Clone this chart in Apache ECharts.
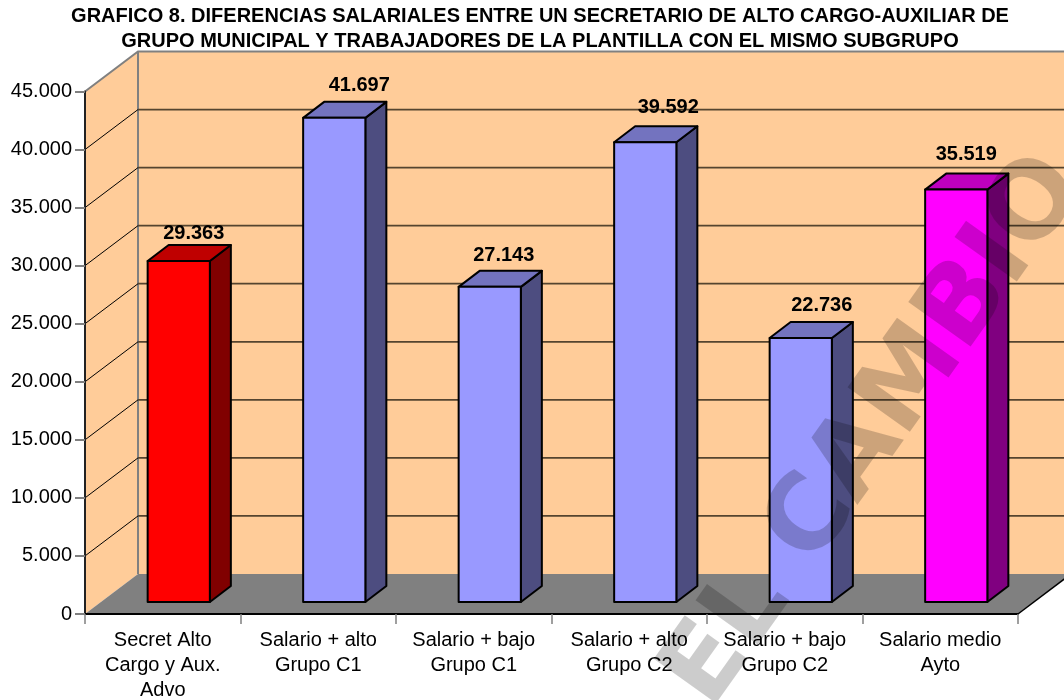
<!DOCTYPE html>
<html>
<head>
<meta charset="utf-8">
<style>html,body{margin:0;padding:0;background:#fff}#c{width:1064px;height:700px}</style>
<script src="https://cdn.jsdelivr.net/npm/echarts@6/dist/echarts.min.js"></script>
</head>
<body>
<div id="c"></div>
<script>
const titleText = 'GRAFICO 8. DIFERENCIAS SALARIALES ENTRE UN SECRETARIO DE ALTO CARGO-AUXILIAR DE\nGRUPO MUNICIPAL Y TRABAJADORES DE LA PLANTILLA CON EL MISMO SUBGRUPO';
const categories = ['Secret Alto\nCargo y Aux.\nAdvo','Salario + alto\nGrupo C1','Salario + bajo\nGrupo C1','Salario + alto\nGrupo C2','Salario + bajo\nGrupo C2','Salario medio\nAyto'];
const salaries = [29363,41697,27143,39592,22736,35519];
const yTicks = [5000,10000,15000,20000,25000,30000,35000,40000];
const faceColors = ['#FF0000','#9999FF','#9999FF','#9999FF','#9999FF','#FF00FF'];
const topColors = ['#BF0000','#7373BF','#7373BF','#7373BF','#7373BF','#BF00BF'];
const sideColors = ['#800000','#4D4D80','#4D4D80','#4D4D80','#4D4D80','#800080'];
const watermark = 'EL CAMBIO';

// 3D layout (pixels)
const WALL_DX = 53, WALL_DY = -40, BAR_DX = 16, BAR_DY = -12, DEPTH_DX = 21, DEPTH_DY = -16;
const labelNudgeX = [15,25,14,23,21,10];
const labelNudgeY = [-28,-32,-31,-35,-33,-35];
const FONT = '"Liberation Sans", Arial, sans-serif';
const fmt = v => String(v).replace(/\B(?=(\d{3})+$)/g,'.');

const wallSeries = {
  type:'custom', silent:true, z:1, clip:false, data:[0], encode:{x:[],y:[]},
  renderItem(params){
    const g = params.coordSys, L=g.x, R=g.x+g.width, T=g.y, B=g.y+g.height;
    const stroke = {stroke:'#808080',lineWidth:2,fill:null};
    return {type:'group',children:[
      {type:'rect',shape:{x:L+WALL_DX,y:T+WALL_DY,width:g.width+WALL_DX,height:g.height},style:{fill:'#FFCC99'}},
      {type:'polygon',shape:{points:[[L,T],[L+WALL_DX,T+WALL_DY],[L+WALL_DX,B+WALL_DY],[L,B]]},style:{fill:'#FFCC99'}},
      {type:'polygon',shape:{points:[[L,B],[L+WALL_DX,B+WALL_DY],[R+WALL_DX,B+WALL_DY],[R,B]]},style:{fill:'#808080'}},
      {type:'polyline',shape:{points:[[L,T],[L+WALL_DX,T+WALL_DY],[R+WALL_DX,T+WALL_DY]]},style:stroke},
      {type:'line',shape:{x1:L+WALL_DX,y1:T+WALL_DY,x2:L+WALL_DX,y2:B+WALL_DY},style:stroke},
      {type:'line',shape:{x1:R,y1:B,x2:R+WALL_DX,y2:B+WALL_DY},style:{stroke:'#000',lineWidth:1.5}}
    ]};
  }
};
const gridSeries = {
  type:'custom', silent:true, z:2, clip:false, data:yTicks.map(v=>[0,v]),
  encode:{y:1},
  renderItem(params,api){
    const g = params.coordSys, y = api.coord([0,api.value(1)])[1], L=g.x, R=g.x+g.width;
    return {type:'group',children:[
      {type:'line',shape:{x1:L,y1:y,x2:L+WALL_DX,y2:y+WALL_DY},style:{stroke:'#000',lineWidth:1}},
      {type:'line',shape:{x1:L+WALL_DX,y1:y+WALL_DY,x2:R+WALL_DX,y2:y+WALL_DY},style:{stroke:'#55442f',lineWidth:1.8}}
    ]};
  }
};
const barSeries = {
  type:'custom', z:3, clip:false, data:salaries.map((v,i)=>[i,v]),
  encode:{x:0,y:1},
  renderItem(params,api){
    const i = params.dataIndex, v = api.value(1);
    const top = api.coord([i,v]), base = api.coord([i,0]), w = api.size([1,0])[0]*0.4;
    const x0 = top[0]-w/2+BAR_DX, x1 = x0+w, yT = top[1]+BAR_DY, yB = base[1]+BAR_DY;
    const edge = {stroke:'#000',lineWidth:2,lineJoin:'round'};
    return {type:'group',children:[
      {type:'polygon',shape:{points:[[x1,yT],[x1+DEPTH_DX,yT+DEPTH_DY],[x1+DEPTH_DX,yB+DEPTH_DY],[x1,yB]]},style:{fill:sideColors[i],...edge}},
      {type:'polygon',shape:{points:[[x0,yT],[x0+DEPTH_DX,yT+DEPTH_DY],[x1+DEPTH_DX,yT+DEPTH_DY],[x1,yT]]},style:{fill:topColors[i],...edge}},
      {type:'rect',shape:{x:x0,y:yT,width:w,height:yB-yT},style:{fill:faceColors[i],...edge}},
      {type:'text',x:(x0+x1)/2+labelNudgeX[i],y:yT+labelNudgeY[i],style:{text:fmt(v),font:'bold 20px '+FONT,fill:'#000',align:'center',verticalAlign:'middle'}}
    ]};
  }
};

const chart = echarts.init(document.getElementById('c'));
chart.setOption({
  animation:false,
  backgroundColor:'#fff',
  title:{text:titleText,left:535,top:-1,textAlign:'center',textStyle:{fontFamily:FONT,fontWeight:'bold',fontSize:20,lineHeight:25,color:'#000'}},
  grid:{left:85,right:46,top:91.5,bottom:86,containLabel:false,outerBoundsMode:'none'},
  xAxis:{type:'category',data:categories,z:5,
    axisLine:{lineStyle:{color:'#000',width:2}},
    axisTick:{show:true,length:10,alignWithLabel:false,lineStyle:{color:'#808080',width:1.5}},
    axisLabel:{fontFamily:FONT,fontSize:20,lineHeight:25,color:'#000',margin:14,interval:0},
    splitLine:{show:false}},
  yAxis:{type:'value',min:0,max:45000,interval:5000,z:5,
    axisLine:{show:true,lineStyle:{color:'#222',width:2}},
    axisTick:{show:true,length:10,lineStyle:{color:'#808080',width:2}},
    axisLabel:{fontFamily:FONT,fontSize:20,color:'#000',margin:13,formatter:v=>fmt(v)},
    splitLine:{show:false}},
  series:[wallSeries,gridSeries,barSeries],
  graphic:[{type:'text',x:876,y:432,rotation:54.5*Math.PI/180,z:100,silent:true,
    style:{text:watermark,font:'bold 105px "DejaVu Sans"',fill:'rgba(0,0,0,0.2)',textAlign:'center',textVerticalAlign:'middle'}}]
});
</script>
</body>
</html>
